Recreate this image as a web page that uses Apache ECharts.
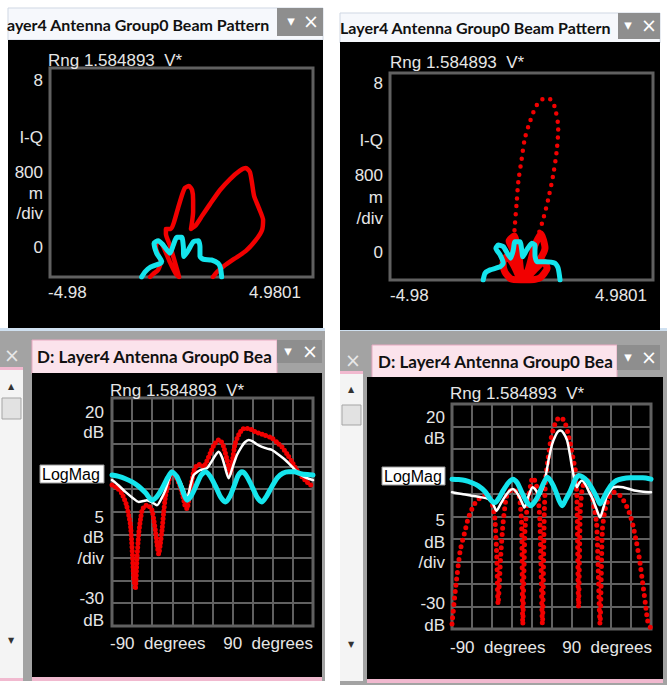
<!DOCTYPE html>
<html><head><meta charset="utf-8">
<script src="https://cdn.jsdelivr.net/npm/echarts@6/dist/echarts.min.js"></script>
<style>html,body{margin:0;padding:0;background:#fff}#c{width:667px;height:685px}</style>
</head><body><div id="c"></div>
<script>
// ---------- DATA ----------
// Top panels: I-Q (polar) beam pattern, x from -4.98 to 4.9801, y 0..8 (frame units)
const iqXMin = -4.98, iqXMax = 4.9801;
const cyanTL = [[-1.51,0],[-1.38,0.2],[-1.19,0.37],[-0.81,0.52],[-0.75,0.59],[-0.94,0.91],[-1.04,1.29],[-0.88,1.39],[-0.69,1.22],[-0.44,0.91],[-0.31,1.22],[-0.18,1.52],[0.01,1.52],[0.07,1.16],[0.09,0.78],[0.26,1.03],[0.45,1.35],[0.64,1.39],[0.7,1.16],[0.7,0.78],[0.83,0.68],[1.14,0.65],[1.39,0.52],[1.48,0.33],[1.52,0]];
const redTL = [[-1.19,0],[-1.08,0.11],[-0.89,0.27],[-0.78,0.57],[-0.97,1.11],[-0.93,1.38],[-0.74,1.26],[-0.44,0.57],[-0.21,0.11],[-0.09,0],[-0.25,0.57],[-0.44,1.22],[-0.59,1.65],[-0.59,1.84],[-0.4,1.84],[-0.28,2.11],[-0.13,2.64],[0.02,3.14],[0.13,3.41],[0.28,3.48],[0.4,3.33],[0.44,2.95],[0.44,2.49],[0.4,2.11],[0.36,1.84],[0.55,1.99],[0.78,2.34],[1.08,2.79],[1.46,3.33],[1.84,3.75],[2.2,4.06],[2.44,4.17],[2.59,4.02],[2.67,3.6],[2.75,3.1],[2.93,2.64],[3.09,2.18],[3.05,1.8],[2.82,1.42],[2.44,1.0],[1.99,0.69],[1.61,0.42],[1.34,0.19],[1.19,0]];
const cyanTR = [[-1.45,0],[-1.38,0.26],[-1.19,0.39],[-0.81,0.51],[-0.69,0.65],[-0.81,0.97],[-0.97,1.23],[-0.88,1.35],[-0.69,1.29],[-0.5,0.97],[-0.41,0.84],[-0.31,1.16],[-0.25,1.48],[-0.06,1.48],[0.01,1.16],[0.05,0.9],[0.2,1.16],[0.39,1.42],[0.51,1.35],[0.51,0.97],[0.58,0.71],[0.89,0.71],[1.27,0.65],[1.39,0.45],[1.46,0]];
const redTRSide = [[-0.02,0],[-0.4,0.04],[-0.63,0.31],[-0.7,0.66],[-0.55,0.93],[-0.28,0.54],[-0.06,0.04],[-0.32,1.16],[-0.47,1.51],[-0.28,1.7],[-0.09,0.85],[0.02,0.08],[0.25,0.39],[0.51,1.35],[0.74,1.78],[0.89,1.24],[0.25,0.12],[0.85,0.7],[0.97,0.46],[0.7,0.08],[0.32,0],[-0.02,0]];
const redTRLobe = [[-0.13,0.7],[-0.28,1.62],[-0.25,2.13],[-0.18,3.03],[-0.12,3.8],[0.01,4.7],[0.13,5.48],[0.32,6.12],[0.58,6.76],[0.89,7.02],[1.12,6.96],[1.27,6.64],[1.39,5.86],[1.33,4.96],[1.2,4.06],[1.02,3.16],[0.83,2.38],[0.64,1.74],[0.58,1.48],[0.32,0.7]];

// Bottom panels: LogMag (dB) vs angle (degrees)
const degMin = -90, degMax = 90, degStep = 18;
const dbMin = -30, dbMax = 20, dbStep = 5;
const redBL = [[-90,0.9],[-85,0.2],[-81,-1],[-77,-3.5],[-73.6,-7.6],[-72,-13],[-70.6,-19.3],[-69.1,-21.9],[-67.6,-15],[-66.1,-9.8],[-64.5,-6.6],[-63,-4.6],[-60.8,-3.7],[-58.7,-3.5],[-56.4,-3.8],[-54.2,-4.6],[-52.7,-6.5],[-51.2,-9],[-49.7,-12],[-48.2,-14.2],[-46.7,-12],[-45.2,-9],[-43.7,-5],[-42.2,-1.7],[-39.5,1.5],[-36.3,3.8],[-32.5,2.6],[-28.8,0.5],[-26.5,-1.5],[-24.3,-3.9],[-22.8,-4.3],[-21.3,-2.5],[-19.8,-0.2],[-16.9,3.8],[-13.9,5.3],[-10.9,5.4],[-7.9,4.9],[-5,6.2],[-2,7.9],[1.5,9.8],[5.5,10.8],[8,10.4],[10,9.3],[13,6.5],[16,3.5],[18,6.5],[20.4,10.1],[24,12.2],[27,13.2],[29.4,13.4],[32,13.3],[35.4,13],[38,12.6],[41.3,12.3],[47,11.8],[53.3,11.2],[58,10.2],[62.2,9.3],[67,7.6],[71.2,6],[75.5,4.2],[80.2,2.7],[85,1.5],[90,0.5]];
const whiteBL = [[-90,2],[-84,0.8],[-78,-0.6],[-72,-1.8],[-66.1,-2.8],[-62,-2.6],[-58.7,-2.4],[-54,-2.9],[-49.7,-3.5],[-46,-2.2],[-42.2,-0.2],[-39,2.2],[-36.3,3.8],[-32.5,3],[-28.8,1.6],[-25.5,-0.3],[-22.8,-2.1],[-20,0.5],[-16.9,3.1],[-13.5,3.8],[-10.9,4.2],[-7.5,4.4],[-4.9,4.6],[-1,6],[2.5,7.4],[5.5,8.2],[8.5,7],[11,5],[14.5,2.4],[18,4.8],[21.9,7.5],[26,9.3],[29,10.3],[32.4,10.8],[36,10.5],[40,9.8],[44.3,9.3],[49,8.9],[53.3,8.6],[59,7.6],[65.2,6.4],[71,5],[77.1,3.5],[83,2.6],[90,2]];
const cyanBL = [[-90,3.1],[-84,2.8],[-78,2.3],[-72,1.6],[-66,0.6],[-60,-0.8],[-54.2,-2.4],[-50,-1.7],[-45,0.2],[-40,2.6],[-36.3,3.8],[-32,2.8],[-28,0.5],[-25,-1.5],[-22.8,-2.4],[-19,-1.4],[-15,0.6],[-10.5,3],[-6.4,3.8],[-2,2.8],[3,0.5],[7.5,-1.8],[11.5,-2.8],[15.5,-1.6],[19.5,0.8],[23,3],[26.4,3.8],[30,3.1],[35,0.8],[40,-1.8],[44.3,-2.8],[48.5,-1.5],[53,0.5],[58,2.5],[63,3.5],[68.2,3.8],[73,3.8],[79,3.4],[85,3.2],[90,3.1]];
const redBR = [[-90,-28.9],[-87,-21.5],[-82.6,-12.6],[-78,-8],[-75.1,-5.2],[-71,-2.8],[-67.7,-1.5],[-63,-0.6],[-60.3,-0.4],[-57,-0.8],[-54.3,-1.5],[-51.3,-5.2],[-49.5,-14],[-48.3,-24.5],[-46,-14],[-43.9,-6.7],[-40.9,-0.7],[-38,0.6],[-35,1.1],[-32,0.6],[-29,-0.7],[-27,-6.7],[-26,-29],[-24,-8],[-21.6,-2.2],[-19,1.8],[-17.1,3.7],[-14.8,2.8],[-12.6,0.7],[-10.5,-6],[-8.2,-28.9],[-6.5,-4],[-5.2,3.7],[-3,8],[-0.7,11.9],[1.5,14.3],[3.7,15.9],[6,16.8],[8.2,17],[10.4,16.6],[12.6,15.6],[14.8,13.6],[17.1,11.1],[19.4,8],[21.6,5.2],[23,-0.7],[24.5,-25.2],[26,-4],[27.5,0.7],[30,3],[32,3.7],[34,2.5],[36.4,0],[38.5,-3],[40.9,-6.7],[43.9,-28.9],[46,-8],[48.3,-3.7],[52,-0.8],[55.8,0.4],[59.5,0.2],[63.2,-0.7],[67,-2.2],[70.7,-4.4],[73.7,-7],[76.6,-10.4],[79.6,-14.5],[82.6,-20],[85,-24.5],[87,-28.2],[90,-30]];
const whiteBR = [[-90,0.4],[-81,0],[-72.2,-0.4],[-64,-0.7],[-57.3,-1.1],[-53,-2.2],[-49.8,-3.7],[-46,-2.2],[-42.4,-0.7],[-38.5,0.6],[-35,1.1],[-32,0.5],[-29,-0.7],[-26.5,-2],[-24.5,-3],[-21,-0.6],[-17.1,1.5],[-14,0.8],[-11.2,-0.4],[-9,0.6],[-6.7,2.2],[-4.5,5],[-2.2,8.1],[0.5,11],[3.7,13],[6,13.9],[8.2,14.1],[11,13.5],[14.1,11.9],[16.5,9],[18.6,5.9],[21,3],[23,1.5],[25,2.4],[27.5,3],[30.5,2.2],[33.5,0.7],[37,-1],[40.5,-3.2],[43.9,-5.2],[47,-3],[49.8,-0.7],[52.8,0.6],[55.8,1.5],[60,1.6],[64.7,1.5],[70.5,1.1],[76.6,0.7],[83,0.5],[90,0.4]];
const cyanBR = [[-90,3.3],[-84,3.2],[-78.1,3],[-72,2.5],[-66.2,1.8],[-60,0.5],[-54.3,-1.5],[-51,-1.9],[-47,-0.7],[-43.9,0.7],[-39,2.5],[-35,3.3],[-31,2.5],[-27.5,0.7],[-23,-1.5],[-18.6,-2.6],[-15.5,-1.8],[-12.6,-0.7],[-8,2],[-3.7,3.7],[0,2.6],[3.7,0.7],[7,-1.5],[9.7,-2.6],[13,-1.2],[17.1,0.7],[21,3],[24.5,4.1],[28,3.8],[32,3],[36,1.5],[40.9,-0.7],[43.9,-2.2],[46.5,-1.2],[49.8,0.4],[54,2],[58.8,3],[64,3.4],[70.7,3.6],[76,3.6],[82.6,3.6],[90,3.3]];

// Text labels (\u00a0 keeps the double spaces)
const titleTop = 'Layer4 Antenna Group0 Beam Pattern';
const titleTab = 'D: Layer4 Antenna Group0 Bea';
const rngText = 'Rng 1.584893\u00a0\u00a0V*';
const iqYLabels = ['8', 'I-Q', '800', 'm', '/div', '0'];
const iqXLabels = ['-4.98', '4.9801'];
const dbYLabels = ['20', 'dB', '5', 'dB', '/div', '-30', 'dB'];
const degXLabels = ['-90\u00a0\u00a0degrees', '90\u00a0\u00a0degrees'];
const refLabel = 'LogMag';

// ---------- CHART ----------
const chart = echarts.init(document.getElementById('c'), null, {renderer: 'svg', width: 667, height: 685});
const RED = '#f20000', CYAN = '#14e4ec', WHITE = '#ffffff', FRAME = '#606060';
const PF = '17px "Liberation Sans", Arial, sans-serif';
const TF = 'bold 16px Lato, "Open Sans", sans-serif';
const TABF = 'bold 17px Lato, "Open Sans", sans-serif';
const g = [];
function rect(x, y, w, h, fill, z, stroke, lw) {
  g.push({type: 'rect', shape: {x, y, width: w, height: h}, style: {fill, stroke: stroke || null, lineWidth: lw || 0}, z: z == null ? -5 : z, silent: true});
}
function txt(x, y, text, align, font, fill, z) {
  g.push({type: 'text', style: {x, y, text, font: font || PF, fill: fill || '#e6e6e6', align: align || 'left', textAlign: align || 'left', verticalAlign: 'middle', textVerticalAlign: 'middle'}, z: z == null ? 20 : z, silent: true});
}
// ---- window chrome ----
// top-left window
rect(8, 8, 315, 32, '#f6f8fc', -6, '#cfd7e3', 1);
rect(8, 40, 315, 288, '#000', -6);
rect(277, 8, 46, 28, '#8e8e8e', 21);
txt(7, 24, titleTop.slice(1), 'left', TF, '#111', 15);
txt(291, 21, '▾', 'center', '15px "DejaVu Sans"', '#fff', 22);
txt(311, 21, '×', 'center', '19px "DejaVu Sans"', '#fff', 22);
// top-right window
rect(340, 13, 320, 30, '#f6f8fc', -6, '#cfd7e3', 1);
rect(340, 42, 320, 288, '#000', -6);
rect(618, 13, 42, 26, '#8e8e8e', 21);
txt(340, 27, titleTop, 'left', TF, '#111', 15);
txt(628, 25, '▾', 'center', '15px "DejaVu Sans"', '#fff', 22);
txt(649, 25, '×', 'center', '19px "DejaVu Sans"', '#fff', 22);
// bottom-left window
rect(0, 328, 325, 4, '#cfe0f0', -7);
rect(0, 331, 325, 350, '#a3a3a3', -7);
rect(32, 340, 245, 34, '#fbe3ec', -6, '#e7a9c0', 1);
rect(277, 340, 45, 23, '#8e8e8e', 21);
txt(37, 356, titleTab, 'left', TABF, '#111', 15);
txt(288, 351, '▾', 'center', '15px "DejaVu Sans"', '#fff', 22);
txt(310, 351, '×', 'center', '19px "DejaVu Sans"', '#fff', 22);
txt(12, 355, '×', 'center', '19px "DejaVu Sans"', '#e8e8e8', 22);
rect(32, 373, 290, 305, '#000', -6);
rect(32, 677, 290, 4, '#f1b9cf', -6);
rect(0, 367, 23, 314, '#f4f4f4', -6);
rect(0, 367, 23, 3, '#f1b9cf', -5);
rect(0, 678, 23, 3, '#f1b9cf', -5);
rect(2, 398, 19, 21, '#e2e2e2', -4, '#a5a5a5', 1);
txt(11, 386, '▲', 'center', '8px "DejaVu Sans"', '#333', 22);
txt(11, 640, '▼', 'center', '8px "DejaVu Sans"', '#333', 22);
// bottom-right window
rect(340, 328, 327, 4, '#cfe0f0', -7);
rect(340, 331, 327, 354, '#a3a3a3', -7);
rect(372, 345, 245, 33, '#fbe3ec', -6, '#e7a9c0', 1);
rect(617, 345, 43, 25, '#8e8e8e', 21);
txt(378, 361, titleTab, 'left', TABF, '#111', 15);
txt(628, 357, '▾', 'center', '15px "DejaVu Sans"', '#fff', 22);
txt(649, 357, '×', 'center', '19px "DejaVu Sans"', '#fff', 22);
txt(353, 360, '×', 'center', '19px "DejaVu Sans"', '#e8e8e8', 22);
rect(367, 377, 296, 302, '#000', -6);
rect(367, 679, 296, 4, '#f1b9cf', -6);
rect(340, 371, 23, 310, '#f4f4f4', -6);
rect(340, 371, 23, 3, '#f1b9cf', -5);
rect(342, 405, 19, 20, '#e2e2e2', -4, '#a5a5a5', 1);
txt(351, 389, '▲', 'center', '8px "DejaVu Sans"', '#333', 22);
txt(351, 644, '▼', 'center', '8px "DejaVu Sans"', '#333', 22);

// ---- plot labels ----
// top-left
txt(48, 60, rngText);
[80, 137, 172, 193, 213, 247].forEach((y, i) => txt(43, y, iqYLabels[i], 'right'));
txt(48, 292, iqXLabels[0]); txt(301, 292, iqXLabels[1], 'right');
// top-right
txt(390, 62, rngText);
[83, 140, 175, 197, 218, 252].forEach((y, i) => txt(383, y, iqYLabels[i], 'right'));
txt(390, 295, iqXLabels[0]); txt(647, 295, iqXLabels[1], 'right');
// bottom-left
txt(110, 390, rngText);
[412, 432, 517, 537, 558, 598, 620].forEach((y, i) => txt(104, y, dbYLabels[i], 'right'));
rect(40, 465, 64, 18, '#fff', 19, '#999', 1);
txt(42, 474, refLabel, 'left', '16px "Liberation Sans", Arial, sans-serif', '#000', 21);
txt(110, 643, degXLabels[0]); txt(313, 643, degXLabels[1], 'right');
// bottom-right
txt(450, 393, rngText);
[417, 438, 520, 542, 562, 603, 625].forEach((y, i) => txt(445, y, dbYLabels[i], 'right'));
rect(382, 467, 63, 18, '#fff', 19, '#999', 1);
txt(384, 476, refLabel, 'left', '16px "Liberation Sans", Arial, sans-serif', '#000', 21);
txt(450, 647, degXLabels[0]); txt(652, 647, degXLabels[1], 'right');

const grids = [
  {left: 50, top: 68, width: 263, height: 209},
  {left: 390, top: 73, width: 263, height: 207},
  {left: 112, top: 398, width: 201, height: 228},
  {left: 452, top: 404, width: 199, height: 225}
].map(o => Object.assign({show: true, borderColor: FRAME, borderWidth: 3, backgroundColor: 'transparent', containLabel: false}, o));

const hid = {show: false};
function iqX(i) { return {type: 'value', gridIndex: i, min: iqXMin, max: iqXMax, show: false}; }
function iqY(i) { return {type: 'value', gridIndex: i, min: 0, max: 8, show: false}; }
const gridLine = {show: true, lineStyle: {color: FRAME, width: 2}};
function dX(i) { return {type: 'value', gridIndex: i, min: degMin, max: degMax, interval: degStep, axisLine: hid, axisTick: hid, axisLabel: hid, splitLine: gridLine}; }
function dY(i) { return {type: 'value', gridIndex: i, min: dbMin, max: dbMax, interval: dbStep, axisLine: hid, axisTick: hid, axisLabel: hid, splitLine: gridLine}; }

function ln(i, data, color, width, extra) {
  return Object.assign({type: 'line', xAxisIndex: i, yAxisIndex: i, data, showSymbol: false, symbol: 'none', smooth: 0.25,
    lineStyle: {color, width, cap: 'round', join: 'round'}, animation: false, silent: true}, extra || {});
}
const dotted = (w, gap) => ({type: [0, gap], cap: 'round', join: 'round', width: w, color: RED});

chart.setOption({
  backgroundColor: '#ffffff',
  animation: false,
  grid: grids,
  xAxis: [iqX(0), iqX(1), dX(2), dX(3)],
  yAxis: [iqY(0), iqY(1), dY(2), dY(3)],
  graphic: {elements: g},
  series: [
    ln(0, redTL, RED, 4.5, {z: 3, smooth: 0.2}),
    ln(0, cyanTL, CYAN, 5, {z: 4, smooth: 0.2}),
    ln(1, redTRSide, RED, 7, {z: 3, smooth: 0.2}),
    ln(1, redTRLobe, RED, 4, {z: 3, smooth: 0.3, lineStyle: dotted(4.5, 8)}),
    ln(1, cyanTR, CYAN, 5, {z: 4, smooth: 0.2}),
    ln(2, redBL, RED, 4, {z: 3, smooth: 0.2, lineStyle: dotted(5, 4)}),
    ln(2, whiteBL, WHITE, 2.5, {z: 4}),
    ln(2, cyanBL, CYAN, 5, {z: 5}),
    ln(3, redBR, RED, 4, {z: 3, smooth: 0.2, lineStyle: dotted(5, 6.5)}),
    ln(3, whiteBR, WHITE, 2.5, {z: 4}),
    ln(3, cyanBR, CYAN, 5, {z: 5})
  ]
});
</script></body></html>
